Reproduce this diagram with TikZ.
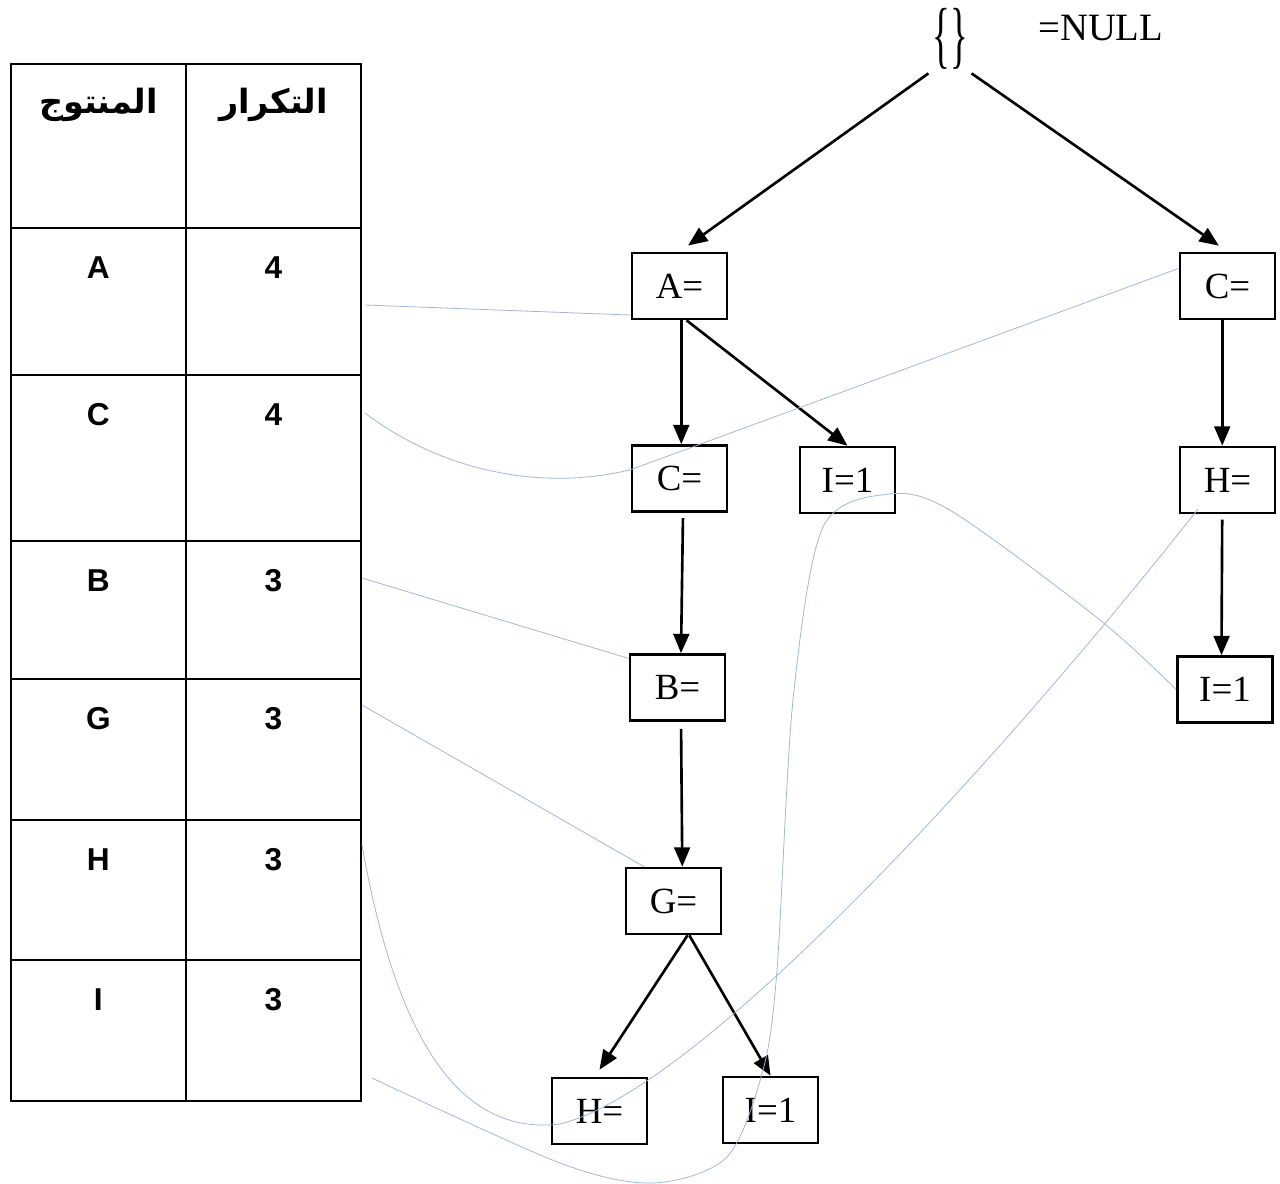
\documentclass[tikz,border=0pt]{standalone}
\usepackage{fontspec}
\usepackage{graphicx}
\setmainfont{Liberation Serif}
\newfontfamily\tablefont{Liberation Sans}
\newfontfamily\arabicfont[Script=Arabic]{DejaVu Sans}
\TeXXeTstate=1
\usetikzlibrary{arrows.meta}
\definecolor{linkblue}{RGB}{160,182,215}

\begin{document}
\begin{tikzpicture}[x=0.2mm,y=-0.2mm,
    treebox/.style={draw,line width=1.5pt,minimum width=1.9cm,minimum height=1.32cm,inner sep=0pt,font=\fontsize{21}{25}\selectfont},
    edge/.style={line width=1.5pt,-{Triangle[length=11pt,width=9pt]}},
    cell/.style={draw,line width=1pt,anchor=north west,minimum width=3.5cm,inner sep=0pt},
    item/.style={font=\tablefont\bfseries\fontsize{18}{22}\selectfont},
    head/.style={font=\arabicfont\bfseries\fontsize{19}{22}\selectfont},
    link/.style={draw=linkblue,line width=0.45pt}]
  \useasboundingbox (0,0) rectangle (1280,1184);

  % header table
  \node[cell,minimum height=3.28cm] (hp) at (10,63) {};
  \node[cell,minimum height=3.28cm] (hf) at (185,63) {};
  \node[head] at ([yshift=-24pt]hp.north) {\beginR المنتوج\endR};
  \node[head] at ([yshift=-24pt]hf.north) {\beginR التكرار\endR};
  \foreach[count=\i] \ry/\rh/\lbl/\cnt in {227/147/A/4,374/166/C/4,540/138/B/3,678/141/G/3,819/140/H/3,959/141/I/3} {
    \node[cell,minimum height=\rh*0.2mm] (p\i) at (10,\ry) {};
    \node[cell,minimum height=\rh*0.2mm] (f\i) at (185,\ry) {};
    \node[item] at ([yshift=-23pt]p\i.north) {\lbl};
    \node[item] at ([yshift=-23pt]f\i.north) {\cnt};
  }

  % tree
  \node[inner sep=2pt,font=\fontsize{21}{25}\selectfont] (root) at (950,39) {\scalebox{1}[2]{\{\}}};
  \node[anchor=west,inner sep=0pt,font=\fontsize{22}{26}\selectfont] (nulltxt) at (1038,28) {=NULL};
  \node[treebox] (A1) at (679.5,286) {A=};
  \node[treebox] (C1) at (1227.5,286) {C=};
  \node[treebox] (C2) at (679.5,478.5) {C=};
  \node[treebox] (I1) at (847.5,480) {I=1};
  \node[treebox] (H2) at (1227.5,480) {H=};
  \node[treebox] (B1) at (677.5,687.5) {B=};
  \node[treebox] (I2) at (1225,689.5) {I=1};
  \node[treebox] (G1) at (673.5,901) {G=};
  \node[treebox] (H3) at (599.5,1111) {H=};
  \node[treebox] (I3) at (770.5,1110) {I=1};

  \draw[edge,shorten >=6pt] (root.south west) -- (A1.north);
  \draw[edge,shorten >=6pt] (root.south east) -- (C1.north);
  \draw[edge] ([xshift=1pt]A1.south) -- ([xshift=1pt]C2.north);
  \draw[edge] ([xshift=4pt]A1.south) -- (I1.north);
  \draw[edge,shorten <=3pt] ([xshift=2pt]C2.south) -- ([xshift=2pt]B1.north);
  \draw[edge,shorten <=4pt] ([xshift=2pt]B1.south) -- ([xshift=5pt]G1.north);
  \draw[edge] ([xshift=8pt]G1.south) -- ([yshift=4pt]H3.north);
  \draw[edge] ([xshift=9pt]G1.south) -- (I3.north);
  \draw[edge] ([xshift=-3pt]C1.south) -- ([xshift=-3pt]H2.north);
  \draw[edge,shorten <=3pt] ([xshift=-3pt]H2.south) -- ([xshift=-2pt]I2.north);

  % node links
  \coordinate (lA) at (365,305);
  \coordinate (lC) at (365,413);
  \coordinate (lB) at (362,578);
  \coordinate (lG) at (362,705);
  \coordinate (lH) at (362,845);
  \coordinate (lI) at (372,1078);
  \draw[link] (lA) -- ([yshift=3pt]A1.south west);
  \draw[link] (lC) .. controls (440,470) and (540,492) .. ([yshift=5pt]C2.west) -- ([yshift=10pt]C1.west);
  \draw[link] (lB) -- ([yshift=-3pt]B1.north west);
  \draw[link] (lG) -- ([xshift=11pt]G1.north west);
  \draw[link] (lH) .. controls (400,1060) and (470,1135) .. (560,1124) .. controls (700,1090) and (1000,760) .. ([xshift=11pt,yshift=3pt]H2.south west);
  \draw[link] plot[smooth] coordinates {(lI) (560,1163) (653,1183) (727,1157) (763,1070) (777,970) (793,700) (823,527) (890,494) (953,512) (1100,620) (I2.west)};
\end{tikzpicture}
\end{document}
